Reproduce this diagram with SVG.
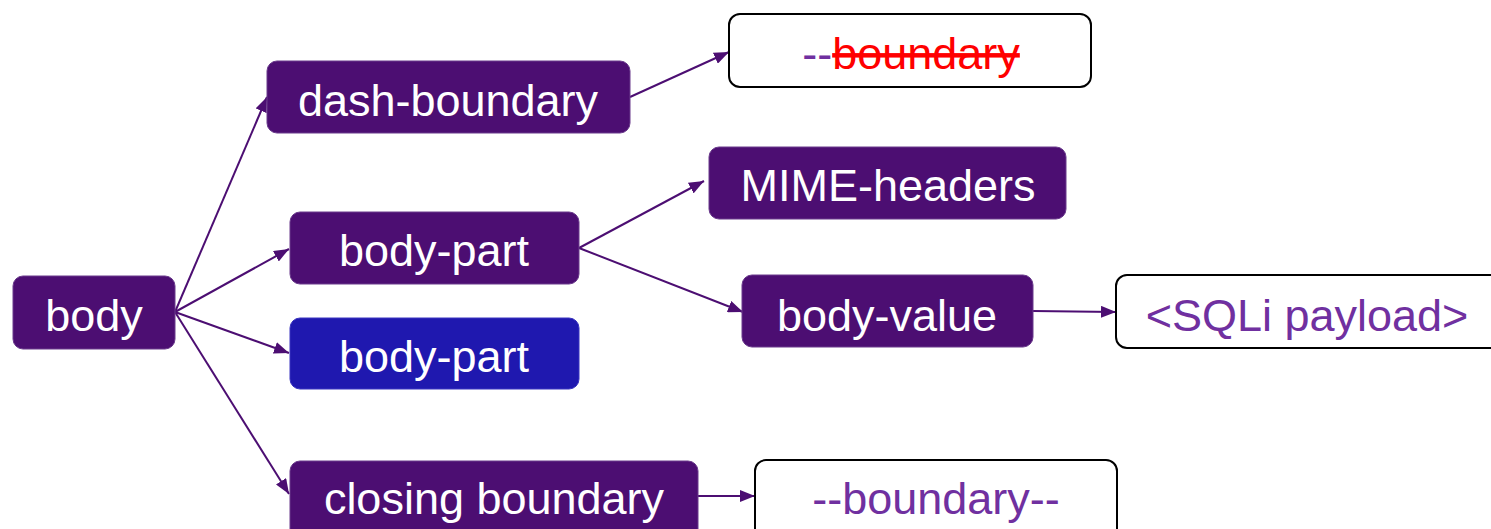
<svg xmlns="http://www.w3.org/2000/svg" width="1491" height="529" viewBox="0 0 1491 529">
<style>
.n{fill:#4C0E72;stroke:#6A3A8C;stroke-width:1}
.b{fill:#1F18AF;stroke:#3A34C0;stroke-width:1}
.w{fill:#FFFFFF;stroke:#000000;stroke-width:2}
.t{font-family:"Liberation Sans",Arial,sans-serif;font-size:45px;fill:#FFFFFF;text-anchor:middle}
.p{font-family:"Liberation Sans",Arial,sans-serif;font-size:45px;fill:#7030A0;text-anchor:middle}
.c{stroke:#4C0E72;stroke-width:2;fill:none;marker-end:url(#ah)}
</style>
<defs>
<marker id="ah" markerUnits="userSpaceOnUse" markerWidth="16" markerHeight="12" refX="15" refY="6" orient="auto">
<path d="M0,0 L15,6 L0,12 z" fill="#4C0E72"/>
</marker>
</defs>
<rect width="1491" height="529" fill="#FFFFFF"/>
<g id="connectors">
<line class="c" x1="175" y1="312" x2="267" y2="97"/>
<line class="c" x1="175" y1="312" x2="289" y2="249"/>
<line class="c" x1="175" y1="312" x2="289" y2="353"/>
<line class="c" x1="175" y1="312" x2="289" y2="494"/>
<line class="c" x1="630" y1="97" x2="729" y2="52"/>
<line class="c" x1="579" y1="248" x2="704" y2="181"/>
<line class="c" x1="579" y1="248" x2="743" y2="312"/>
<line class="c" x1="1033" y1="311" x2="1116" y2="312"/>
<line class="c" x1="698" y1="496" x2="755" y2="496"/>
</g>
<g id="body">
<rect class="n" x="13" y="276" width="162" height="73" rx="10"/>
<text class="t" x="94" y="331">body</text>
</g>
<g id="dash-boundary">
<rect class="n" x="267" y="61" width="363" height="72" rx="10"/>
<text class="t" x="448" y="116">dash-boundary</text>
</g>
<g id="boundary-struck">
<rect class="w" x="729" y="14" width="362" height="73" rx="11"/>
<text class="p" x="911" y="69"><tspan fill="#7030A0">--</tspan><tspan fill="#FF0000" text-decoration="line-through">boundary</tspan></text>
</g>
<g id="body-part-1">
<rect class="n" x="290" y="212" width="289" height="72" rx="10"/>
<text class="t" x="434" y="266">body-part</text>
</g>
<g id="mime-headers">
<rect class="n" x="709" y="147" width="357" height="72" rx="10"/>
<text class="t" x="888" y="201">MIME-headers</text>
</g>
<g id="body-value">
<rect class="n" x="742" y="275" width="291" height="72" rx="10"/>
<text class="t" x="887" y="331">body-value</text>
</g>
<g id="sqli-payload">
<rect class="w" x="1116" y="275" width="386" height="73" rx="11"/>
<text class="p" x="1307" y="331">&lt;SQLi payload&gt;</text>
</g>
<g id="body-part-2">
<rect class="b" x="290" y="318" width="289" height="71" rx="10"/>
<text class="t" x="434" y="372">body-part</text>
</g>
<g id="closing-boundary">
<rect class="n" x="290" y="461" width="408" height="80" rx="10"/>
<text class="t" x="494" y="514">closing boundary</text>
</g>
<g id="boundary-end">
<rect class="w" x="755" y="460" width="362" height="80" rx="11"/>
<text class="p" x="936" y="514">--boundary--</text>
</g>
</svg>
